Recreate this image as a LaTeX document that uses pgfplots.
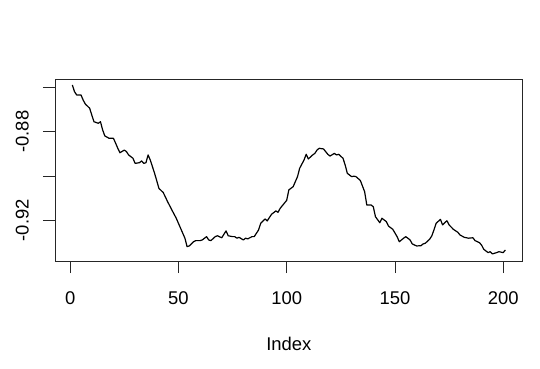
\documentclass[border=0pt]{standalone}
\usepackage{pgfplots}
\pgfplotsset{compat=1.18}
\usepackage{fontspec}
\setmainfont{Liberation Sans}
\usetikzlibrary{calc}
\begin{document}
\begin{tikzpicture}
\begin{axis}[
  scale only axis,
  width=467.7bp, height=182bp,
  xmin=-7, xmax=209,
  ymin=-0.9384, ymax=-0.8562,
  axis line style={line width=0.9bp, black!85},
  tick style={line width=0.9bp, black!85},
  tick align=outside,
  major tick length=12bp,
  xtick pos=bottom, ytick pos=left,
  xtick={0,50,100,150,200},
  xticklabels={0,50,100,150,200},
  ytick={-0.92,-0.90,-0.88,-0.86},
  yticklabels={-0.92,,-0.88,},
  font=\fontsize{18.5}{18.5}\selectfont,
  xticklabel style={inner sep=0pt, anchor=north, yshift=-18.7bp, font=\fontsize{18.5}{18.5}\selectfont},
  yticklabel style={inner sep=0pt, xshift=-14bp, rotate=90, anchor=south, font=\fontsize{18.5}{18.5}\selectfont},
  xlabel={Index},
  xlabel style={at={(axis description cs:0.5,0)}, anchor=north, yshift=-76.3bp, inner sep=0pt, font=\fontsize{18.5}{18.5}\selectfont},
  clip=false,
]
\addplot[black, line width=1.2bp, line join=round] coordinates {
(1,-0.8589) (2,-0.8619) (3,-0.8634) (5,-0.8634) (6,-0.8657) (7,-0.8675) (9,-0.8694)
(10,-0.8725) (11,-0.8755) (13,-0.8762) (14,-0.8755) (15,-0.8792) (16,-0.8819) (18,-0.8830)
(20,-0.8830) (21,-0.8852) (22,-0.8875) (23,-0.8895) (25,-0.8883) (26,-0.8890) (27,-0.8905)
(29,-0.8920) (30,-0.8943) (32,-0.8940) (33,-0.8932) (34,-0.8943) (35,-0.8940) (36,-0.8905)
(37,-0.8928) (39,-0.8988) (41,-0.9056) (43,-0.9075) (45,-0.9116) (47,-0.9154) (49,-0.9191)
(51,-0.9236) (53,-0.9281) (54,-0.9319) (55,-0.9316) (57,-0.9297) (58,-0.9292) (60,-0.9292)
(61,-0.9289) (63,-0.9274) (64,-0.9289) (65,-0.9292) (67,-0.9274) (68,-0.9270) (70,-0.9279)
(72,-0.9248) (73,-0.9270) (75,-0.9274) (76,-0.9274) (77,-0.9281) (78,-0.9277) (80,-0.9289)
(81,-0.9281) (82,-0.9284) (84,-0.9274) (85,-0.9274) (87,-0.9244) (88,-0.9214) (90,-0.9194)
(91,-0.9203) (93,-0.9173) (95,-0.9158) (96,-0.9164) (97,-0.9146) (98,-0.9134) (100,-0.9110)
(101,-0.9063) (103,-0.9048) (105,-0.9003) (106,-0.8965) (108,-0.8928) (109,-0.8902) (110,-0.8923)
(112,-0.8905) (113,-0.8898) (114,-0.8883) (115,-0.8875) (117,-0.8878) (118,-0.8890) (119,-0.8902)
(120,-0.8910) (122,-0.8898) (123,-0.8905) (124,-0.8902) (126,-0.8920) (127,-0.8950) (128,-0.8988)
(130,-0.9003) (131,-0.9001) (132,-0.9003) (134,-0.9020) (136,-0.9071) (137,-0.9131) (139,-0.9131)
(140,-0.9139) (141,-0.9184) (143,-0.9211) (144,-0.9191) (146,-0.9206) (147,-0.9226) (149,-0.9241)
(151,-0.9274) (152,-0.9297) (154,-0.9281) (155,-0.9274) (157,-0.9289) (158,-0.9307) (160,-0.9316)
(162,-0.9315) (163,-0.9307) (164,-0.9304) (166,-0.9286) (167,-0.9271) (168,-0.9244) (169,-0.9214)
(171,-0.9196) (172,-0.9221) (174,-0.9202) (175,-0.9221) (177,-0.9241) (179,-0.9254) (180,-0.9266)
(182,-0.9277) (183,-0.9279) (184,-0.9281) (186,-0.9279) (187,-0.9292) (189,-0.9301) (190,-0.9312)
(191,-0.9331) (193,-0.9346) (194,-0.9342) (195,-0.9352) (197,-0.9346) (198,-0.9342) (200,-0.9346)
(201,-0.9334)
};
\end{axis}
\pgfresetboundingbox
\useasboundingbox ($(current axis.south west)+(-55bp,-108bp)$) rectangle ($(current axis.north east)+(17.3bp,79bp)$);
\end{tikzpicture}
\end{document}
